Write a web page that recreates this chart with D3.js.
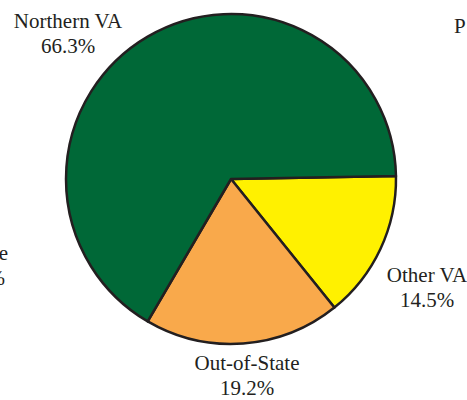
<!DOCTYPE html>
<html><head><meta charset="utf-8">
<script src="https://cdn.jsdelivr.net/npm/d3@7"></script>
<style>html,body{margin:0;padding:0;background:#fff;}svg{display:block;}</style>
</head><body>
<svg id="c" width="467" height="400"></svg>
<script>
const categories = ["Other VA", "Out-of-State", "Northern VA"];
const values = [14.5, 19.2, 66.3];
const valueLabels = ["14.5%", "19.2%", "66.3%"];
const colors = ["#fff100", "#f9a94b", "#006837"];

const svg = d3.select("#c");
const cx = 231, cy = 179, r = 165;
const start = 89 * Math.PI / 180;
const pie = d3.pie().sort(null).value(d => d).startAngle(start).endAngle(start + 2 * Math.PI);
const arc = d3.arc().innerRadius(0).outerRadius(r);
const g = svg.append("g").attr("transform", `translate(${cx},${cy})`);
g.selectAll("path").data(pie(values)).join("path")
  .attr("d", arc)
  .attr("fill", (d, i) => colors[i])
  .attr("stroke", "#231f20")
  .attr("stroke-width", 2.5)
  .attr("stroke-linejoin", "round");

const font = "'Liberation Serif', 'Times New Roman', serif";
const fs = 21;
const labelPos = [[427, 282], [247, 370], [68, 28]];
const lab = svg.append("g").attr("font-family", font).attr("font-size", fs).attr("fill", "#231f20").attr("text-anchor", "middle");
categories.forEach((c, i) => {
  const t = lab.append("text").attr("x", labelPos[i][0]).attr("y", labelPos[i][1]);
  t.append("tspan").attr("x", labelPos[i][0]).text(c);
  t.append("tspan").attr("x", labelPos[i][0]).attr("dy", 24.5).text(valueLabels[i]);
});
// partially cropped texts at the edges of the original picture
svg.append("text").attr("x", 454).attr("y", 33).attr("font-family", font).attr("font-size", fs).attr("fill", "#231f20").text("P");
svg.append("text").attr("x", 8).attr("y", 260).attr("text-anchor", "end").attr("font-family", font).attr("font-size", fs).attr("fill", "#231f20").text("e");
svg.append("text").attr("x", 5).attr("y", 285).attr("text-anchor", "end").attr("font-family", font).attr("font-size", fs).attr("fill", "#231f20").text("%");
</script>
</body></html>
